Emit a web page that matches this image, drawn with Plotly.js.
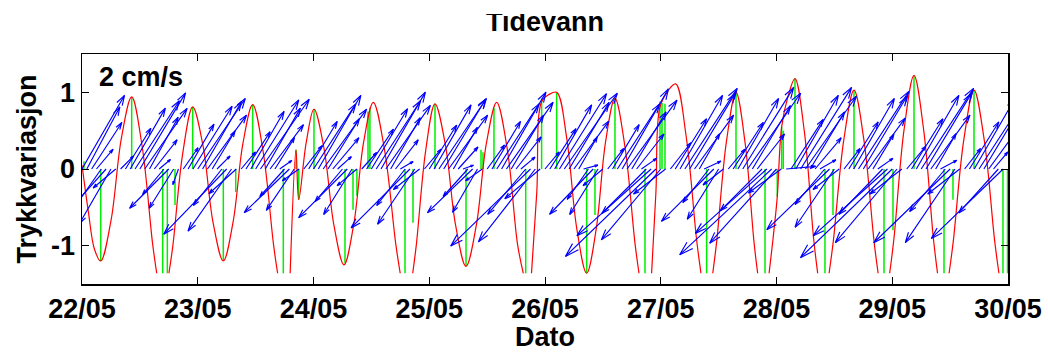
<!DOCTYPE html>
<html><head><meta charset="utf-8">
<script src="https://cdn.plot.ly/plotly-3.0.1.min.js"></script>
<style>
body{margin:0;background:#fff}
#wrap{position:relative;width:1048px;height:352px;overflow:hidden}
#cover{position:absolute;left:0;top:0;width:1048px;height:14px;background:#fff;z-index:5}
</style>
</head><body>
<div id="wrap"><div id="plot" style="width:1048px;height:352px"></div><div id="cover"></div></div>
<script>
// x axis: hours from 22/05 00:00
const dayLabels = ['22/05','23/05','24/05','25/05','26/05','27/05','28/05','29/05','30/05'];
const yTickVals = [-1, 0, 1];
const yTickText = ['-1', '0', '1'];

// pressure variation (red curve); null = missing data
const tideT = [0.0,1.3,2.6,3.88,6.02,8.16,10.30,12.46,14.63,15.49,16.79,18.02,18.84,20.90,22.95,25.07,27.18,29.30,31.33,33.36,35.39,37.55,39.72,40.56,41.88,43.16,44.37,44.93,46.50,48.10,50.17,52.25,54.32,56.35,58.37,60.40,62.73,65.06,65.98,67.39,68.57,69.32,71.26,73.19,75.33,77.48,79.62,81.74,83.86,85.98,88.20,90.30,91.50,92.30,93.20,94.30,95.30,96.80,98.42,100.49,102.57,104.64,106.60,108.55,110.51,112.58,114.66,115.49,116.80,118.10,119.00,119.80,121.50,123.10,125.26,127.43,128.34,129.60,130.78,131.59,133.60,135.60,137.47,139.33,140.09,141.20,142.46,143.30,144.16,145.07,146.40,147.83,149.77,151.70,152.54,153.64,154.90,155.78,157.93,160.07,162.14,164.22,165.07,166.29,167.46,168.36,170.44,172.51,174.51,176.52,177.39,178.52,179.78,180.66,182.81,184.95,187.09,189.24,190.12];
const tideV = [0.05,-0.55,-1.05,-1.20,-0.67,0.40,0.94,0.30,-0.97,-1.36,null,-1.36,-1.00,0.21,0.81,0.31,-0.70,-1.20,-0.69,0.33,0.84,0.23,-0.99,-1.36,null,-1.36,0.25,-0.40,0.35,0.78,0.27,-0.74,-1.25,-0.72,0.34,0.87,0.25,-0.98,-1.36,null,-1.36,-0.99,0.24,0.85,0.32,-0.74,-1.27,-0.74,0.34,0.87,0.25,-0.98,-1.36,null,-1.36,-0.30,0.88,0.97,1.00,0.41,-0.77,-1.36,-0.79,0.35,0.92,0.29,-0.97,-1.36,null,-1.36,-0.30,0.80,1.02,1.11,0.43,-0.92,-1.36,null,-1.36,-0.95,0.35,1.00,0.35,-0.95,-1.36,null,-1.36,-0.90,-0.36,0.55,0.95,1.18,0.49,-0.91,-1.36,null,-1.36,-0.94,0.37,1.03,0.37,-0.94,-1.36,null,-1.36,-0.90,0.51,1.22,0.51,-0.90,-1.36,null,-1.36,-0.94,0.37,1.03,0.37,-0.94,-1.36];

// sampled values (green stems)
const stemT = [0.4,3.88,10.30,16.73,17.69,19.28,22.95,29.30,31.87,35.39,41.74,44.37,44.93,48.10,54.53,56.19,57.0,59.3,59.7,66.97,68.63,73.19,79.62,82.73,83.14,85.42,92.0,95.3,98.42,104.64,106.36,110.51,116.73,119.84,120.26,120.88,129.52,135.60,141.62,144.16,145.07,145.4,147.83,154.05,155.71,160.07,166.29,168.15,172.51,178.73,180.59,184.95,190.96,191.9];
const stemV = [0.10,-1.20,0.94,-1.36,-1.36,-0.47,0.81,-1.20,-0.30,0.84,-1.36,0.25,-0.40,0.78,-1.23,-0.53,-0.35,0.75,0.80,-1.36,-0.70,0.85,-1.27,0.25,0.22,0.80,-1.36,0.92,1.00,-1.36,-0.60,0.92,-1.36,0.88,0.86,0.85,-1.36,1.00,-1.36,-0.36,0.55,0.50,1.18,-1.36,-0.60,1.03,-1.36,-0.80,1.22,-1.36,-0.40,1.03,-1.36,-1.36];

// hourly current: speed (cm/s) and direction (deg, towards, clockwise from north)
const curSpd = [
2.3,1.9,1.5,0.7,1.35,2.1,1.7,0.8,0.5,1.3,1.9,2.2,
2.4,2.0,1.6,1.0,0.4,0.9,1.5,1.25,0.45,0.7,1.4,2.0,
2.3,2.1,1.8,1.2,0.5,1.25,2.45,2.05,1.0,0.6,1.2,1.8,
2.2,2.3,1.9,1.5,1.0,0.4,1.0,1.7,1.35,0.55,0.8,1.5,
2.1,2.3,2.0,1.6,1.1,0.5,1.15,1.86,1.45,0.7,0.6,1.3,
1.9,2.2,2.4,2.1,1.6,1.0,0.4,1.25,2.25,1.8,0.9,0.7,
1.4,2.0,2.3,2.2,1.8,1.3,0.8,0.3,1.0,1.7,1.35,0.55,
0.8,1.5,2.1,2.4,2.2,1.7,1.1,0.5,1.6,3.0,2.5,1.25,
0.6,1.3,2.0,2.4,2.5,2.1,1.6,1.0,0.4,1.0,1.7,1.45,
0.7,0.7,1.4,2.1,2.5,2.3,1.8,1.2,0.5,1.7,2.7,3.4,
2.5,1.1,0.9,1.6,2.3,2.6,2.4,1.8,1.1,0.5,1.15,2.0,
1.6,0.7,0.7,1.5,2.2,2.6,2.5,2.0,1.2,1.6,2.6,3.4,
2.7,1.1,0.8,1.6,2.3,2.6,2.4,1.8,1.1,0.5,1.25,2.36,
1.9,0.9,0.7,1.5,2.2,2.5,2.3,1.7,1.1,0.5,1.7,2.7,
3.45,2.6,1.1,0.8,1.6,2.3,2.6,2.4,1.8,1.1,0.5,1.5,
2.87,2.4,1.1,0.7,1.5,2.2,2.5,2.3,1.7,0.6,1.6,2.7];
const curDir = [
30,28,33,40,215,222,210,230,45,32,30,33,
31,35,29,38,50,220,225,212,200,35,30,32,
34,30,36,31,45,218,224,215,228,40,33,30,
32,35,30,37,32,55,222,226,214,235,38,31,
33,30,36,32,40,48,220,225,212,230,42,34,
31,33,30,35,30,38,60,218,225,214,232,40,
32,30,34,31,36,30,42,70,222,226,210,235,
36,31,33,30,35,31,38,50,220,226,218,230,
40,33,30,32,35,31,36,30,75,215,224,212,
230,38,31,33,30,36,31,38,55,225,228,226,
220,232,38,32,30,33,31,36,30,65,218,225,
212,232,40,33,30,32,35,31,38,225,228,227,
222,234,85,33,30,32,35,31,40,60,220,226,
214,232,38,32,30,33,31,36,31,55,224,228,
226,220,232,40,32,30,33,31,36,30,62,220,
226,214,232,38,32,30,33,31,36,40,222,226];

// ---- layout constants
const W = 1048, H = 352, ML = 82, MR = 40, MT = 54, MB = 68;
const XR = [0, 192], YR = [-1.5, 1.5];
const pxH = (W - ML - MR) / (XR[1] - XR[0]);
const pxU = (H - MT - MB) / (YR[1] - YR[0]);
const K = 37; // px per cm/s

const FONT = {family: 'Arial, "Liberation Sans", sans-serif', size: 27, color: '#000', weight: 'bold'};

// stems
const sx = [], sy = [];
stemT.forEach((t, i) => { sx.push(t, t, null); sy.push(0, stemV[i], null); });

// quiver arrows
const qx = [], qy = [];
curSpd.forEach((s, i) => {
  const t = i;
  const d = curDir[i] * Math.PI / 180;
  const ux = s * Math.sin(d) * K, vy = s * Math.cos(d) * K;
  const tx = t + ux / pxH, ty = vy / pxU;
  const L = Math.hypot(ux, vy);
  const hl = 0.1 * L + 2;
  const th = Math.atan2(vy, ux);
  const a1 = th + Math.PI + 17 * Math.PI / 180, a2 = th + Math.PI - 17 * Math.PI / 180;
  qx.push(t, tx, tx + hl * Math.cos(a1) / pxH, null, tx, tx + hl * Math.cos(a2) / pxH, null);
  qy.push(0, ty, ty + hl * Math.sin(a1) / pxU, null, ty, ty + hl * Math.sin(a2) / pxU, null);
});

const traces = [
  {x: sx, y: sy, mode: 'lines', line: {color: '#00ee00', width: 1.5}, hoverinfo: 'skip', connectgaps: false},
  {x: tideT, y: tideV, mode: 'lines', line: {color: '#ff0000', width: 1.2, shape: 'spline', smoothing: 1}, connectgaps: false},
  {x: qx, y: qy, mode: 'lines', line: {color: '#0000ff', width: 1.15}, hoverinfo: 'skip', connectgaps: false}
];

const axisCommon = {
  showline: true, linecolor: '#000', linewidth: 1.5, mirror: 'ticks',
  ticks: 'inside', ticklen: 7, tickwidth: 1, tickcolor: '#000',
  showgrid: false, zeroline: false, tickfont: FONT, automargin: false
};

const layout = {
  width: W, height: H,
  margin: {l: ML, r: MR, t: MT, b: MB, pad: 0},
  paper_bgcolor: '#fff', plot_bgcolor: '#fff',
  showlegend: false,
  title: {text: 'Tidevann', font: FONT, x: 0.5, xref: 'paper', xanchor: 'center', y: 1 - 22 / H, yref: 'container', yanchor: 'middle'},
  xaxis: Object.assign({}, axisCommon, {
    range: XR, tickvals: dayLabels.map((_, i) => i * 24), ticktext: dayLabels,
    title: {text: 'Dato', font: FONT, standoff: 9}
  }),
  yaxis: Object.assign({}, axisCommon, {
    range: YR, tickvals: yTickVals, ticktext: yTickText,
    title: {text: 'Trykkvariasjon', font: FONT, standoff: 6}
  }),
  annotations: [{text: '2 cm/s', xref: 'paper', yref: 'paper', x: 0.016, y: 0.9, xanchor: 'left', yanchor: 'middle', showarrow: false, font: FONT}]
};

Plotly.newPlot('plot', traces, layout, {staticPlot: true, displayModeBar: false});
</script>
</body></html>
